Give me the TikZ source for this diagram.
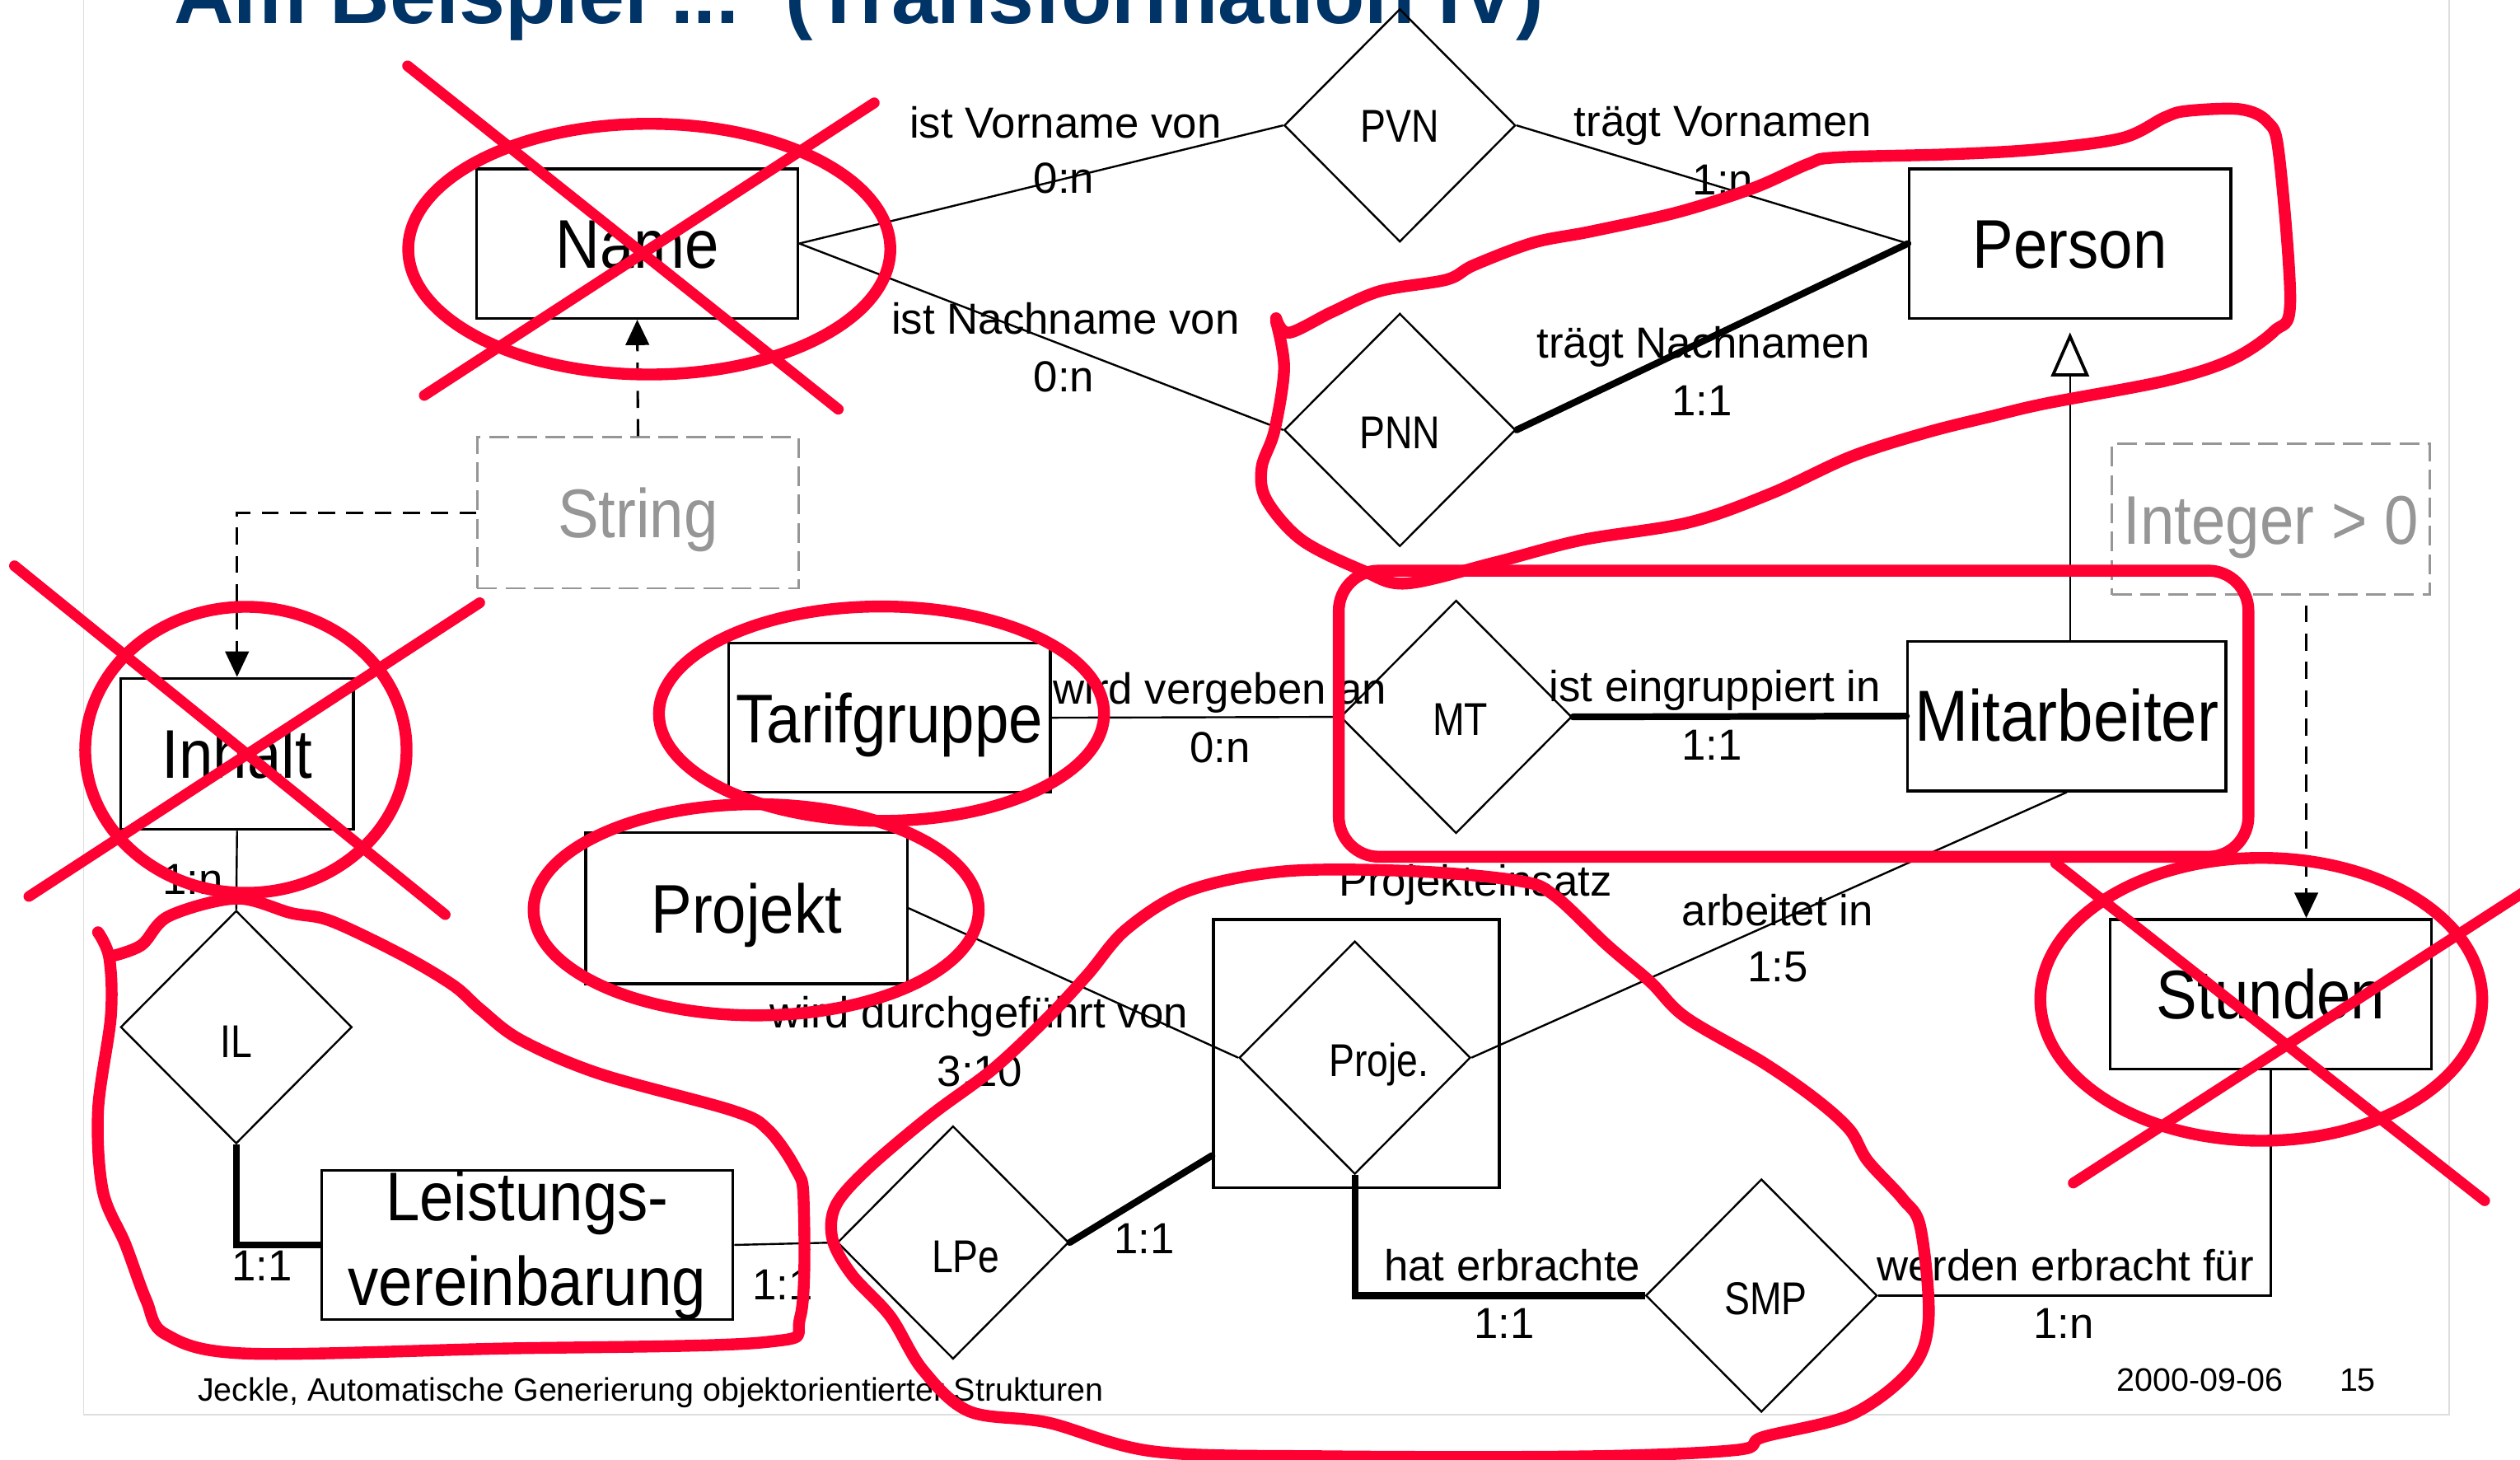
\documentclass[tikz,border=0pt]{standalone}
\usepackage{fontspec}
\setmainfont{Liberation Sans}
\newfontfamily\entityfont{Liberation Sans}[FakeStretch=0.89]
\newfontfamily\relfont{Liberation Sans}[FakeStretch=0.83]
\usetikzlibrary{shapes.geometric,arrows.meta}
\definecolor{slideBlue}{RGB}{0,51,102}
\definecolor{markerRed}{RGB}{255,0,51}
\definecolor{typeGray}{RGB}{150,150,150}
\definecolor{frameGray}{RGB}{222,222,222}
\begin{document}
\begin{tikzpicture}[x=0.02cm,y=-0.02cm,
entityBox/.style={draw=black,line width=1pt,inner sep=0pt,minimum width=4cm,minimum height=1.86cm,font=\entityfont\fontsize{24.4}{30}\selectfont},
entity/.style={entityBox,text height=17.5pt,text depth=0pt},
relship/.style={diamond,draw=black,line width=0.7pt,inner sep=0pt,minimum width=2.88cm,minimum height=2.9cm,font=\relfont\fontsize{16.3}{19}\selectfont,text height=11.7pt,text depth=0pt},
typeBox/.style={draw=typeGray,dash pattern=on 7pt off 3pt,line width=0.8pt,inner sep=0pt,minimum width=4cm,minimum height=1.88cm,text=typeGray,font=\entityfont\fontsize{24.4}{30}\selectfont,text height=17.5pt,text depth=0pt},
role/.style={inner sep=0pt,font=\fontsize{15.4}{18}\selectfont,text height=11pt,text depth=0pt},
link/.style={draw=black,line width=0.7pt},
mustLink/.style={draw=black,line width=2.4pt,line cap=round},
isA/.style={draw=black,line width=0.7pt,-{Triangle[open,length=15.6pt,width=13.4pt,line width=1.1pt]},shorten >=4.5pt},
typeRef/.style={draw=black,line width=0.9pt,dash pattern=on 6pt off 4pt,-{Triangle[length=9pt,width=8.3pt]}},
redMark/.style={draw=markerRed,line width=4.2pt,line cap=round,line join=round}]
\path[use as bounding box] (0,0) rectangle (1568,908);
% slide frame and title
\draw[frameGray,line width=0.5pt] (52,-20) rectangle (1524,880);
\node[anchor=base west,inner sep=0pt,text=slideBlue,font=\bfseries\fontsize{29.3}{34}\selectfont] (title) at (108,14.5) {Am Beispiel ...\ \ (Transformation IV)};
% entities
\node[entity] (name) at (396.5,151.5) {Name};
\node[entity] (person) at (1288,151.5) {Person};
\node[entity] (tarif) at (553.5,446.5) {Tarifgruppe};
\node[entity,minimum width=2.9cm,minimum height=1.88cm] (inhalt) at (147.5,469) {Inhalt};
\node[entity,minimum height=1.88cm] (projekt) at (464.5,565) {Projekt};
\node[entity,minimum width=3.96cm,font=\entityfont\fontsize{25.6}{30}\selectfont] (mit) at (1286,445.5) {Mitarbeiter};
\node[entity] (stunden) at (1413,618.5) {Stunden};
\node[entityBox,minimum width=5.12cm,align=center] (leist) at (328,774.5) {Leistungs-\\vereinbarung};
\node[draw=black,line width=1pt,minimum width=3.56cm,minimum height=3.34cm,inner sep=0pt] (einsatz) at (844,655.5) {};
\node[role] (einsatzName) at (918,548) {Projekteinsatz};
% value types
\node[typeBox] (string) at (397,319) {String};
\node[typeBox,minimum width=3.96cm] (intbox) at (1413,323) {Integer > 0};
% relationships (text sits a little off centre in some of them)
\node[relship] (pvn) at (871,78) {PVN};
\node[relship,text height=13pt] (pnn) at (871,267.5) {PNN};
\node[relship,text height=13pt] (mt) at (906,446) {\hspace*{3pt}MT};
\node[relship,text height=21.8pt] (il) at (147,639) {IL};
\node[relship,text height=21.3pt] (lpe) at (593,773) {\hspace*{9pt}LPe};
\node[relship,text height=13.4pt] (smp) at (1096,806) {\hspace*{3pt}SMP};
\node[relship,text height=13.4pt] (proje) at (843,658) {\hspace*{17pt}Proje.};
% connectors
\draw[link] (name.east) -- (pvn.west);
\draw[link] (name.east) -- (pnn.west);
\draw[link] (pvn.east) -- (person.west);
\draw[mustLink] (pnn.east) -- (person.west);
\draw[isA] (mit.north -| person.south) -- (person.south);
\draw[typeRef] (string.north) -- (name.south);
\draw[typeRef] (string.west) -| (inhalt.north);
\draw[typeRef,shorten <=3.4pt] ([xshift=0.44cm]intbox.south) -- ([xshift=0.44cm]stunden.north);
\draw[link] (tarif.east) -- (mt.west);
\draw[mustLink] (mt.east) -- (mit.west);
\draw[link] (mit.south) -- (proje.east);
\draw[link] (projekt.east) -- (proje.west);
\draw[link] (inhalt.south) -- (il.north);
\draw[mustLink,line cap=butt] (il.south) |- (leist.west);
\draw[link] (leist.east) -- (lpe.west);
\draw[mustLink] (lpe.east) -- ([yshift=0.42cm]einsatz.south west);
\draw[mustLink,line cap=butt] (proje.south) |- (smp.west);
\draw[link] (smp.east) -| (stunden.south);
% role names and cardinalities
\node[role] (rVn) at (663,76) {ist Vorname von};
\node[role] (cVn) at (662,110.5) {0:n};
\node[role] (rTv) at (1072,75) {trägt Vornamen};
\node[role] (cTv) at (1072,111.5) {1:n};
\node[role] (rNn) at (663,198) {ist Nachname von};
\node[role] (cNn) at (662,234) {0:n};
\node[role] (rTn) at (1060,213) {trägt Nachnamen};
\node[role] (cTn) at (1059,249) {1:1};
\node[role] (rVa) at (759,428.5) {wird vergeben an};
\node[role] (cVa) at (759,464.5) {0:n};
\node[role] (rEi) at (1067,427) {ist eingruppiert in};
\node[role] (cEi) at (1065,463) {1:1};
\node[role] (rAi) at (1106,566) {arbeitet in};
\node[role] (cAi) at (1106,601) {1:5};
\node[role] (rDv) at (609,630) {wird durchgeführt von};
\node[role] (cDv) at (609.5,666) {3:10};
\node[role] (cIn) at (120,547) {1:n};
\node[role] (cIl) at (163,787) {1:1};
\node[role] (cLv) at (487,799) {1:1};
\node[role] (cLp) at (712,770) {1:1};
\node[role] (rHe) at (941,787) {hat erbrachte};
\node[role] (cHe) at (936,823) {1:1};
\node[role] (rWe) at (1285,787) {werden erbracht für};
\node[role] (cWe) at (1284,823) {1:n};
% footer
\node[anchor=base west,inner sep=0pt,font=\fontsize{11.5}{14}\selectfont] (footer) at (122.7,871.6) {Jeckle, Automatische Generierung objektorientierter Strukturen};
\node[anchor=base,inner sep=0pt,font=\fontsize{11.5}{14}\selectfont] (date) at (1369,865.7) {2000-09-06};
\node[anchor=base,inner sep=0pt,font=\fontsize{11.5}{14}\selectfont] (page) at (1467,865.7) {15};
% red marker: removed elements
\draw[redMark] (404,155) ellipse [x radius=3cm,y radius=1.56cm];
\draw[redMark,line width=3.8pt] (253.6,41) -- (521.6,254.6);
\draw[redMark,line width=3.8pt] (544,64) -- (264,246);
\draw[redMark] (153,466.5) ellipse [x radius=2cm,y radius=1.78cm];
\draw[redMark,line width=3.8pt] (9,352) -- (277,569);
\draw[redMark,line width=3.8pt] (298.5,375) -- (18,557.7);
\draw[redMark] (1407,621.7) ellipse [x radius=2.75cm,y radius=1.76cm];
\draw[redMark,line width=3.8pt] (1279,537) -- (1546,747);
\draw[redMark,line width=3.8pt] (1575,552) -- (1290,736);
% red marker: kept elements
\draw[redMark] (548.5,444) ellipse [x radius=2.77cm,y radius=1.334cm];
\draw[redMark] (470.5,566) ellipse [x radius=2.77cm,y radius=1.314cm];
\draw[redMark,rounded corners=0.5cm] (833,355) rectangle (1399,533);
\draw[redMark] plot[smooth,tension=0.55] coordinates {(794,198) (802,207) (829,194) (859,181) (900,174) (917,165) (954,151) (990,144) (1044,132) (1091,117) (1125,102) (1142,98) (1213,96) (1267,93) (1320,86) (1347,73) (1361,69) (1394,68) (1411,76) (1418,96) (1425,188) (1415,206) (1388,224) (1347,237) (1273,251) (1239,259) (1199,269) (1152,284) (1102,307) (1051,325) (984,336) (930,350) (875,363) (848,355) (810,336) (788,311) (785,291) (793,268) (799,229) (794,200)};
\draw[redMark] plot[smooth,tension=0.55] coordinates {(61,580) (68,596) (69,632) (61,691) (64,741) (78,774) (91,809) (103,830) (152,842) (310,839) (476,835) (498,819) (500,746) (495,727) (478,703) (456,691) (373,668) (324,647) (299,628) (282,613) (250,594) (206,573) (181,568) (147,559) (105,570) (88,588) (69,595)};
\draw[redMark] plot[smooth cycle,tension=0.55] coordinates {(701,578) (740,554) (800,542) (880,542) (945,548) (967,557) (1000,588) (1027,611) (1049,633) (1097,661) (1130,684) (1151,703) (1162,722) (1184,746) (1195,764) (1200,821) (1189,852) (1152,880) (1097,894) (1081,902) (989,906) (826,906) (718,903) (652,885) (603,878) (574,852) (554,819) (530,793) (518,771) (520,750) (540,727) (579,694) (618,665) (652,633) (677,606)};
\end{tikzpicture}
\end{document}
